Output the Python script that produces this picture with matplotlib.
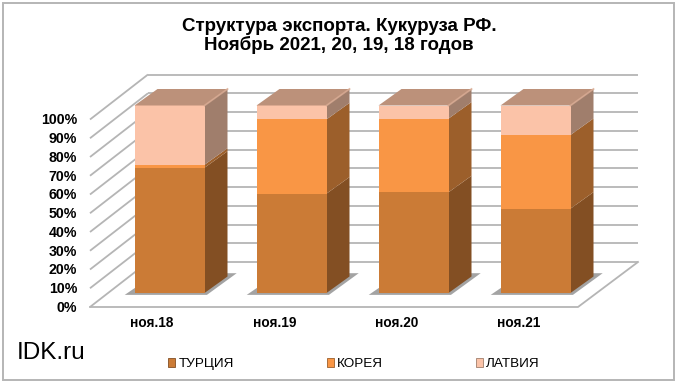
import matplotlib.pyplot as plt
from matplotlib.patches import Patch, Polygon, Rectangle

plt.rcParams["font.family"] = ["Liberation Sans", "DejaVu Sans"]

categories = ["ноя.18", "ноя.19", "ноя.20", "ноя.21"]
series_names = ["ТУРЦИЯ", "КОРЕЯ", "ЛАТВИЯ"]
turkey = [66.8, 53.0, 53.7, 45.0]
korea = [1.6, 39.6, 39.3, 39.3]
latvia = [31.6, 7.4, 7.0, 15.7]
ticks = [0, 10, 20, 30, 40, 50, 60, 70, 80, 90, 100]

front_colors = ["#cb7b36", "#f99645", "#fbc3a8"]
side_colors = ["#834f23", "#9c5f2b", "#a07e6c"]
top_color = "#bc917a"
top_edge = "#d9aa92"
grid_color = "#b5b5b5"

# pixel scale of the picture, data = category index / percent
W, H = 680, 385
X0, SX = 169.5, 122.0
Y0, SY = 293.0, 1.875
BAR_W = 70 / SX
DX, DY = 23 / SX, 16.5 / SY

fig = plt.figure(figsize=(W / 100, H / 100), dpi=100)
ax = fig.add_axes([0, 0, 1, 1])
ax.set_xlim(-X0 / SX, (W - X0) / SX)
ax.set_ylim((Y0 - H) / SY, Y0 / SY)
ax.axis("off")


def px(x):
    return (x - X0) / SX


def py(y):
    return (Y0 - y) / SY


# outer frame
ax.add_patch(Rectangle((px(3), py(380)), 671 / SX, 377 / SY, fc="white", ec="#b5b5b5", lw=1.4, zorder=0))

# walls and floor
left_f, left_b = px(90), px(148)
right_b, right_f = px(638), px(578)
floor_f, floor_b = py(307), py(262)
for t in ticks:
    ax.plot([left_f, left_b], [floor_f + t, floor_b + t], color=grid_color, lw=1.3, zorder=1, solid_capstyle="butt")
    ax.plot([left_b, right_b], [floor_b + t, floor_b + t], color=grid_color, lw=1.3, zorder=1, solid_capstyle="butt")
ax.plot([left_f, right_f, right_b], [floor_f, floor_f, floor_b], color=grid_color, lw=1.3, zorder=1)

# bars
for i in range(len(categories)):
    x1 = i - BAR_W / 2
    x2 = i + BAR_W / 2
    # shadow on the floor
    ax.add_patch(Polygon([(x1 - 0.08, -1), (x2 + 0.02, -1), (x2 + 1.4 * DX, 1.2 * DY),
                          (x2 + 0.9 * DX, 1.2 * DY), (x1 + 0.01, 3)],
                         fc="#8c8c8c", ec="none", alpha=0.8, zorder=2))
    bottom = 0
    for j, vals in enumerate([turkey, korea, latvia]):
        top = bottom + vals[i]
        ax.add_patch(Polygon([(x2, bottom), (x2 + DX, bottom + DY), (x2 + DX, top + DY), (x2, top)],
                             fc=side_colors[j], ec="none", zorder=3))
        ax.add_patch(Rectangle((x1, bottom), BAR_W, vals[i], fc=front_colors[j], ec="none", zorder=4))
        bottom = top
    ax.add_patch(Polygon([(x1, bottom), (x2, bottom), (x2 + DX, bottom + DY), (x1 + DX, bottom + DY)],
                         fc=top_color, ec="none", zorder=5))
    ax.plot([x2, x2 + DX], [bottom, bottom + DY], color=top_edge, lw=1.3, zorder=6, alpha=0.8)
    ax.text(px(152 + 122.3 * i), py(323), categories[i], ha="center", va="center",
            fontsize=9.8, fontweight="bold")

for t in ticks:
    ax.text(px(77), floor_f + t - 0.5, f"{t}%", ha="right", va="center", fontsize=10.2, fontweight="bold")

ax.text(px(339), py(36), "Структура экспорта. Кукуруза РФ.\nНоябрь 2021, 20, 19, 18 годов", ha="center", va="center",
        fontsize=13.5, fontweight="bold", linespacing=1.08)
ax.text(px(17), py(353), "IDK.ru", ha="left", va="center", fontsize=17.5)

handles = [Patch(fc=front_colors[j], ec=side_colors[j], lw=0.6) for j in range(3)]
ax.legend(handles, series_names, ncol=3, frameon=False, fontsize=9.7, loc="center",
          bbox_to_anchor=(354 / W, 1 - 364 / H), handlelength=0.5, handleheight=0.65,
          handletextpad=0.25, columnspacing=6.9, borderpad=0, borderaxespad=0)

fig.savefig("out.png", dpi=100)
